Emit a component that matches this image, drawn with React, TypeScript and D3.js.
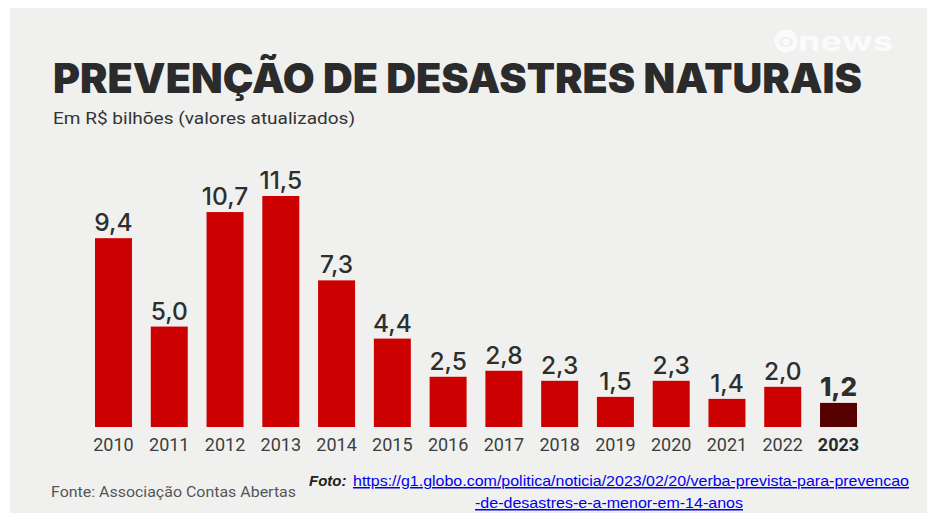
import * as React from 'react';
import { scaleBand, scaleLinear } from 'd3';

const years = ['2010', '2011', '2012', '2013', '2014', '2015', '2016', '2017', '2018', '2019', '2020', '2021', '2022', '2023'];
const values = [9.4, 5.0, 10.7, 11.5, 7.3, 4.4, 2.5, 2.8, 2.3, 1.5, 2.3, 1.4, 2.0, 1.2];
const highlightYear = '2023';

const title = 'PREVENÇÃO DE DESASTRES NATURAIS';
const subtitle = 'Em R$ bilhões (valores atualizados)';
const source = 'Fonte: Associação Contas Abertas';
const linkLine1 = 'https://g1.globo.com/politica/noticia/2023/02/20/verba-prevista-para-prevencao';
const linkLine2 = '-de-desastres-e-a-menor-em-14-anos';

const W = 931;
const H = 513;

const fmt = (v: number) => v.toFixed(1).replace('.', ',');

export default function App(): JSX.Element {
    const x = scaleBand<string>()
        .domain(years)
        .range([85.6, 866.4])
        .paddingInner(0.337)
        .paddingOuter(0.1685);

    const y = scaleLinear()
        .domain([0, 11.5])
        .range([427, 196]);

    return (
        <div style={{ position: 'absolute', left: 0, top: 0 }}>
            <svg width={W} height={H} style={{ display: 'block' }}>
                <rect x={0} y={0} width={W} height={H} fill="#ffffff" />
                <rect x={10} y={8} width={917} height={H - 8} fill="#f0f1ef" />

                {/* logo, faint white */}
                <g fill="#ffffff" opacity={0.75}>
                    <circle cx={786} cy={41} r={11.5} />
                    <ellipse cx={786} cy={42} rx={7} ry={5} fill="#f0f1ef" />
                    <circle cx={786} cy={42} r={3.5} />
                    <text x={798} y={51} fontFamily="Inter, sans-serif" fontWeight={700}
                        fontSize={27} textLength={95} lengthAdjust="spacingAndGlyphs">news</text>
                </g>

                <text x={53} y={93} fontFamily="Inter, sans-serif" fontWeight={900} fontSize={41}
                    fill="#2b2b2b" textLength={809} lengthAdjust="spacingAndGlyphs">{title}</text>
                <text x={53} y={124} fontFamily="Roboto, sans-serif" fontSize={17}
                    fill="#333333" textLength={302} lengthAdjust="spacingAndGlyphs">{subtitle}</text>

                {years.map((yr, i) => {
                    const hi = yr === highlightYear;
                    const bx = x(yr) as number;
                    const cx = bx + x.bandwidth() / 2;
                    return (
                        <g key={yr}>
                            <rect x={bx} y={y(values[i])} width={x.bandwidth()}
                                height={y(0) - y(values[i])} fill={hi ? '#560000' : '#cc0000'} />
                            <text x={cx} y={y(values[i]) - 7} textAnchor="middle"
                                fontFamily="Inter, sans-serif" fontSize={hi ? 26 : 24.5}
                                fontWeight={hi ? 800 : 500} fill="#2e2e2e">{fmt(values[i])}</text>
                            <text x={cx} y={451} textAnchor="middle"
                                fontFamily="Roboto, sans-serif" fontSize={18}
                                fontWeight={hi ? 700 : 400} fill={hi ? '#2b2b2b' : '#3d3d3d'}>{yr}</text>
                        </g>
                    );
                })}

                <text x={51} y={497} fontFamily="Roboto, sans-serif" fontSize={15}
                    fill="#555555" textLength={245} lengthAdjust="spacingAndGlyphs">{source}</text>
                <text x={309} y={486} fontFamily="'Liberation Sans', Arial, sans-serif" fontSize={15}
                    fontWeight={700} fontStyle="italic" fill="#222222">Foto:</text>
                <text x={353} y={486} fontFamily="'Liberation Sans', Arial, sans-serif" fontSize={15}
                    fill="#0000ee" textDecoration="underline" textLength={556}
                    lengthAdjust="spacingAndGlyphs">{linkLine1}</text>
                <text x={475} y={508} fontFamily="'Liberation Sans', Arial, sans-serif" fontSize={15}
                    fill="#0000ee" textDecoration="underline" textLength={268}
                    lengthAdjust="spacingAndGlyphs">{linkLine2}</text>
            </svg>
        </div>
    );
}
